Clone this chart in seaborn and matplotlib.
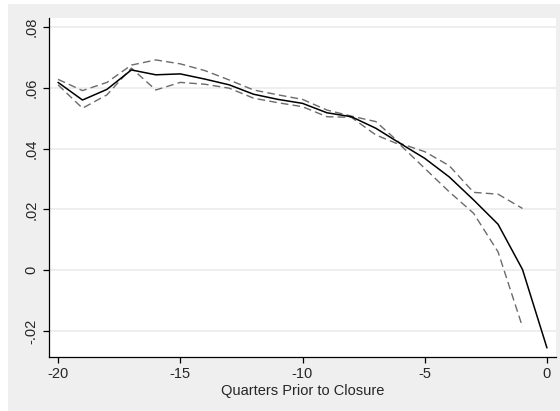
import numpy as np
import pandas as pd
import matplotlib
matplotlib.use("Agg")
import matplotlib.pyplot as plt
import seaborn as sns
from matplotlib.patches import Rectangle

# Quarters before closure and the estimated series
quarters = list(range(-20, 1))
estimate = [0.0618, 0.0560, 0.0595, 0.0659, 0.0643, 0.0646, 0.0629, 0.0610, 0.0579,
            0.0562, 0.0549, 0.0518, 0.0505, 0.0467, 0.0417, 0.0368, 0.0307, 0.0231,
            0.0151, 0.0002, -0.0256]
ci_quarters = list(range(-20, 0))
upper = [0.0628, 0.0591, 0.0618, 0.0675, 0.0692, 0.0679, 0.0657, 0.0626, 0.0593,
         0.0577, 0.0562, 0.0527, 0.0507, 0.0489, 0.0417, 0.0390, 0.0344, 0.0256,
         0.0250, 0.0203]
lower = [0.0610, 0.0533, 0.0577, 0.0665, 0.0593, 0.0618, 0.0612, 0.0599, 0.0566,
         0.0551, 0.0538, 0.0505, 0.0503, 0.0445, 0.0412, 0.0335, 0.0258, 0.0187,
         0.0060, -0.0187]

y_ticks = [-0.02, 0, 0.02, 0.04, 0.06, 0.08]
y_labels = ["-.02", "0", ".02", ".04", ".06", ".08"]
x_ticks = [-20, -15, -10, -5, 0]

sns.set_style("white")
plt.rcParams["font.family"] = ["Liberation Sans", "DejaVu Sans"]

fig = plt.figure(figsize=(5.6, 4.11), dpi=100)
fig.patch.set_facecolor("white")
# Stata-like grey outer region
bg = Rectangle((8 / 560, 0), 1 - 8 / 560, 1 - 4 / 411,
               transform=fig.transFigure, facecolor="#efefef",
               edgecolor="none", zorder=-10)
fig.add_artist(bg)
ax = fig.add_axes([49 / 560, 1 - 357 / 411, (556 - 49) / 560, (357 - 18) / 411])
ax.set_zorder(1)
ax.set_facecolor("white")

for yt in y_ticks:
    ax.axhline(yt, color="#e9e9e9", lw=1.1, zorder=0)

sns.lineplot(x=ci_quarters, y=upper, ax=ax, color="#6b6b6b", lw=1.0,
             linestyle=(0, (5.5, 3)))
sns.lineplot(x=ci_quarters, y=lower, ax=ax, color="#6b6b6b", lw=1.0,
             linestyle=(0, (5.5, 3)))
sns.lineplot(x=quarters, y=estimate, ax=ax, color="black", lw=1.1)

ax.set_xlim(-20.37, 0.37)
ax.set_ylim(-0.0286, 0.083)
ax.set_xticks(x_ticks)
ax.set_xticklabels([str(t) for t in x_ticks], fontsize=10.5)
ax.set_yticks(y_ticks)
ax.set_yticklabels(y_labels, fontsize=10.5, rotation=90, va="center")
ax.tick_params(axis="both", direction="out", length=4.5, width=0.9, color="black",
               bottom=True, left=True, pad=3)
ax.set_xlabel("Quarters Prior to Closure", fontsize=10.5, labelpad=2)
ax.set_ylabel("")

for side in ["top", "right"]:
    ax.spines[side].set_visible(False)
for side in ["left", "bottom"]:
    ax.spines[side].set_color("black")
    ax.spines[side].set_linewidth(0.9)

fig.savefig("out.png", dpi=100)
